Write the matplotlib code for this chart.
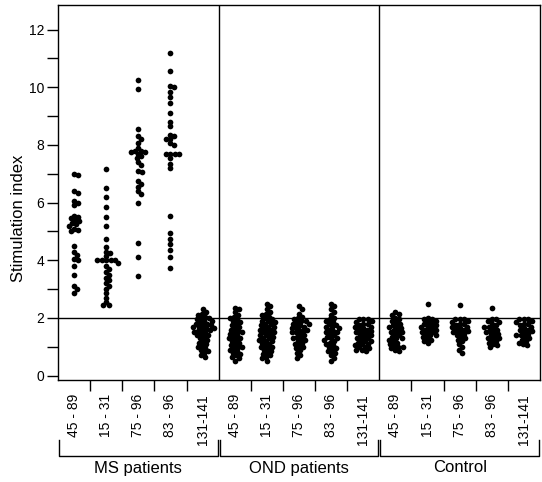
import numpy as np
import matplotlib
matplotlib.use("Agg")
import matplotlib.pyplot as plt
from matplotlib.transforms import blended_transform_factory

plt.rcParams['font.family'] = ['Liberation Sans', 'DejaVu Sans']

peptides = ["45 - 89", "15 - 31", "75 - 96", "83 - 96", "131-141"]
groups = ["MS patients", "OND patients", "Control"]

ms_45_89 = [7.0, 6.95, 6.4, 6.35, 6.05, 6.0, 5.9, 5.55, 5.5, 5.45, 5.4, 5.35, 5.3, 5.25,
            5.2, 5.1, 5.05, 5.0, 4.5, 4.3, 4.2, 4.05, 4.0, 3.8, 3.5, 3.1, 3.0, 2.85]
ms_15_31 = [7.15, 6.5, 6.2, 5.85, 5.5, 5.2, 4.75, 4.45, 4.3, 4.25, 4.15, 4.0, 4.0, 4.0, 4.0,
            4.0, 3.9, 3.8, 3.7, 3.6, 3.5, 3.4, 3.3, 3.2, 3.1, 3.0, 2.85, 2.7, 2.55, 2.45, 2.45]
ms_75_96 = [10.25, 9.95, 8.55, 8.3, 8.2, 8.05, 7.9, 7.8, 7.8, 7.75, 7.75, 7.7, 7.6, 7.55,
            7.4, 7.3, 7.1, 7.05, 6.75, 6.65, 6.55, 6.4, 6.3, 6.0, 4.6, 4.1, 3.45]
ms_83_96 = [11.2, 10.55, 10.05, 10.0, 9.85, 9.65, 9.45, 9.1, 8.8, 8.65, 8.35, 8.3, 8.2, 8.2,
            8.05, 8.0, 7.7, 7.7, 7.7, 7.7, 7.55, 7.35, 7.2, 5.55, 4.95, 4.75, 4.55, 4.35,
            4.1, 3.75]
ms_131_141 = [2.3, 2.2, 2.15, 2.1, 2.05, 2.0, 2.0, 1.95, 1.9, 1.9, 1.85, 1.8, 1.8, 1.75,
              1.75, 1.7, 1.7, 1.65, 1.65, 1.6, 1.6, 1.55, 1.5, 1.5, 1.45, 1.4, 1.4, 1.35,
              1.3, 1.25, 1.2, 1.15, 1.1, 1.05, 1.0, 0.95, 0.9, 0.85, 0.8, 0.7, 0.65]

ond_45_89 = [2.35, 2.3, 2.2, 2.1, 2.05, 2.0, 1.95, 1.9, 1.85, 1.8, 1.75, 1.7, 1.65, 1.6,
             1.55, 1.5, 1.5, 1.45, 1.4, 1.35, 1.3, 1.3, 1.25, 1.2, 1.15, 1.1, 1.05, 1.0,
             1.0, 0.95, 0.9, 0.85, 0.8, 0.75, 0.7, 0.65, 0.6, 0.5]
ond_15_31 = [2.5, 2.4, 2.3, 2.2, 2.15, 2.1, 2.05, 2.0, 1.95, 1.9, 1.9, 1.85, 1.8, 1.8, 1.75,
             1.7, 1.7, 1.65, 1.6, 1.6, 1.55, 1.5, 1.5, 1.45, 1.4, 1.4, 1.35, 1.3, 1.3, 1.25,
             1.2, 1.2, 1.15, 1.1, 1.05, 1.0, 1.0, 0.95, 0.9, 0.85, 0.8, 0.75, 0.7, 0.65,
             0.6, 0.5]
ond_75_96 = [2.4, 2.3, 2.15, 2.05, 2.0, 1.95, 1.9, 1.9, 1.85, 1.8, 1.8, 1.75, 1.7, 1.7,
             1.65, 1.6, 1.6, 1.55, 1.5, 1.5, 1.45, 1.4, 1.35, 1.3, 1.3, 1.25, 1.2, 1.15,
             1.1, 1.05, 1.0, 0.95, 0.9, 0.8, 0.7, 0.6]
ond_83_96 = [2.5, 2.4, 2.3, 2.2, 2.1, 2.0, 1.95, 1.9, 1.85, 1.8, 1.75, 1.7, 1.7, 1.65, 1.6,
             1.55, 1.5, 1.5, 1.45, 1.4, 1.35, 1.3, 1.3, 1.25, 1.2, 1.15, 1.1, 1.05, 1.0,
             0.95, 0.9, 0.85, 0.8, 0.7, 0.6, 0.5]
ond_131_141 = [1.95, 1.95, 1.95, 1.9, 1.85, 1.8, 1.8, 1.75, 1.7, 1.7, 1.65, 1.6, 1.6, 1.55,
               1.5, 1.5, 1.45, 1.4, 1.4, 1.35, 1.3, 1.3, 1.25, 1.2, 1.2, 1.15, 1.1, 1.1,
               1.05, 1.0, 1.0, 0.95, 0.9, 0.9, 0.85]

ctl_45_89 = [2.2, 2.15, 2.1, 2.0, 1.95, 1.9, 1.85, 1.8, 1.75, 1.7, 1.7, 1.65, 1.6, 1.55,
             1.5, 1.5, 1.45, 1.4, 1.35, 1.3, 1.3, 1.25, 1.2, 1.15, 1.1, 1.05, 1.0, 1.0,
             0.95, 0.9, 0.85]
ctl_15_31 = [2.5, 2.0, 1.95, 1.95, 1.9, 1.85, 1.8, 1.8, 1.75, 1.7, 1.7, 1.65, 1.6, 1.6,
             1.55, 1.5, 1.5, 1.45, 1.4, 1.4, 1.35, 1.3, 1.25, 1.2, 1.15]
ctl_75_96 = [2.45, 1.95, 1.95, 1.95, 1.9, 1.85, 1.8, 1.8, 1.75, 1.7, 1.7, 1.65, 1.6, 1.6,
             1.55, 1.5, 1.5, 1.45, 1.4, 1.35, 1.3, 1.25, 1.2, 1.1, 1.0, 0.9, 0.8]
ctl_83_96 = [2.35, 1.95, 1.95, 1.9, 1.85, 1.8, 1.75, 1.7, 1.7, 1.65, 1.6, 1.55, 1.5, 1.5,
             1.45, 1.4, 1.35, 1.3, 1.3, 1.25, 1.2, 1.15, 1.1, 1.05, 1.0]
ctl_131_141 = [1.95, 1.95, 1.95, 1.9, 1.85, 1.8, 1.8, 1.75, 1.7, 1.65, 1.6, 1.6, 1.55, 1.5,
               1.45, 1.4, 1.4, 1.35, 1.3, 1.25, 1.2, 1.15, 1.1, 1.05]

columns = [ms_45_89, ms_15_31, ms_75_96, ms_83_96, ms_131_141,
           ond_45_89, ond_15_31, ond_75_96, ond_83_96, ond_131_141,
           ctl_45_89, ctl_15_31, ctl_75_96, ctl_83_96, ctl_131_141]

W, H = 542, 482
fig = plt.figure(figsize=(W / 100, H / 100), dpi=100)
ax = fig.add_axes([58 / W, 1 - 380 / H, 482 / W, 375 / H])
ymin, ymax = -0.15, 12.85
ncat = len(columns)
ax.set_xlim(0, ncat)
ax.set_ylim(ymin, ymax)

px_x = ax.bbox.width / ncat
px_y = ax.bbox.height / (ymax - ymin)

dot_d = 4.1  # pixel spacing between dot centres


def swarm(values):
    ypx = np.asarray(values) * px_y
    order = np.argsort(-ypx)
    placed = []
    xs = np.zeros(len(values))
    for i in order:
        y = ypx[i]
        cands = [0.0]
        for k in range(1, 200):
            cands += [k * 0.5, -k * 0.5]
        for c in cands:
            ok = True
            for (px, py) in placed:
                if (px - c) ** 2 + (py - y) ** 2 < dot_d ** 2:
                    ok = False
                    break
            if ok:
                xs[i] = c
                placed.append((c, y))
                break
    return xs / px_x


for ci, vals in enumerate(columns):
    offs = swarm(vals)
    ax.plot(ci + 0.5 + offs, vals, 'o', color='black', markersize=4.1,
            markeredgewidth=0, linestyle='none')

ax.axhline(2, color='black', lw=1.0)
for b in [5, 10]:
    ax.axvline(b, color='black', lw=1.0)

for s in ax.spines.values():
    s.set_linewidth(1.0)

ax.set_yticks(range(0, 13, 2))
ax.set_yticks(range(1, 13, 2), minor=True)
ax.tick_params(axis='y', which='both', direction='out', length=8, width=1,
               labelsize=10, pad=2)
ax.set_ylabel("Stimulation index", fontsize=12)
ax.yaxis.set_label_coords(-0.066, 0.43)

centers = np.arange(ncat) + 0.5
ax.set_xticks(centers)
ax.set_xticklabels(peptides * 3, rotation=90, fontsize=10)
ax.tick_params(axis='x', which='major', length=0, pad=10)
ax.set_xticks([i for i in range(1, ncat) if i % 5 != 0], minor=True)
ax.tick_params(axis='x', which='minor', direction='out', length=8, width=1)

# group brackets
tr = blended_transform_factory(ax.transData, fig.transFigure)
ybar = 1 - 456 / H
ytop = 1 - 440 / H
ylab = 1 - 468 / H
for gi, g in enumerate(groups):
    x0 = gi * 5 + 0.03
    x1 = gi * 5 + 4.97
    ax.plot([x0, x0, x1, x1], [ytop, ybar, ybar, ytop], color='black', lw=1.0,
            transform=tr, clip_on=False)
    ax.text((x0 + x1) / 2, ylab, g, transform=tr, ha='center', va='center',
            fontsize=12)

fig.savefig("out.png", dpi=100)
